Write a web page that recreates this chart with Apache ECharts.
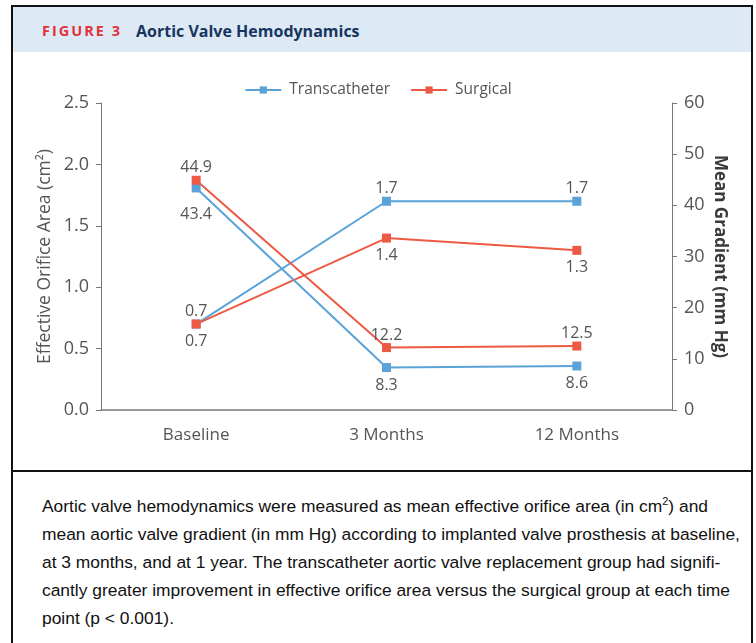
<!DOCTYPE html>
<html style="height: 100%">
<head>
    <meta charset="UTF-8">
    <title>Aortic Valve Hemodynamics</title>
    <style>
        body { margin: 0; background: #fff; width: 756px; height: 643px; overflow: hidden; position: relative; }
        #frame { position: absolute; left: 11px; top: 5px; width: 738px; height: 660px; border: 2px solid #111; }
        #header { position: absolute; left: 13px; top: 7px; width: 738px; height: 45px; background: #dde9f5; }
        #header span { position: absolute; top: 13px; font-family: "Open Sans", sans-serif; font-weight: bold; font-size: 15px; }
        #fig { left: 29px; color: #e2323a; letter-spacing: 2px; font-size: 14.5px !important; top: 14px !important; }
        #ttl { left: 123px; color: #17365f; font-size: 16px !important; }
        #divider { position: absolute; left: 11px; top: 470px; width: 742px; height: 2px; background: #111; }
        #caption { position: absolute; left: 42px; top: 492px; width: 710px; white-space: nowrap; font-family: "Liberation Sans", sans-serif; font-size: 17.4px; line-height: 28px; color: #111; }
        #container { position: absolute; left: 0; top: 0; width: 756px; height: 470px; }
    </style>
</head>
<body>
    <div id="frame"></div>
    <div id="header"><span id="fig">FIGURE 3</span><span id="ttl">Aortic Valve Hemodynamics</span></div>
    <div id="divider"></div>
    <div id="caption">Aortic valve hemodynamics were measured as mean effective orifice area (in cm<sup style="font-size:11px;line-height:0">2</sup>) and<br>mean aortic valve gradient (in mm Hg) according to implanted valve prosthesis at baseline,<br>at 3 months, and at 1 year. The transcatheter aortic valve replacement group had signifi-<br>cantly greater improvement in effective orifice area versus the surgical group at each time<br>point (p &lt; 0.001).</div>
    <div id="container"></div>

    <script src="https://cdn.jsdelivr.net/npm/echarts@6/dist/echarts.min.js"></script>
    <script type="text/javascript">
        var categories = ['Baseline', '3 Months', '12 Months'];
        // effective orifice area, cm2
        var eoaTavr = [0.7, 1.7, 1.7];
        var eoaSavr = [0.7, 1.4, 1.3];
        // mean gradient, mm Hg
        var gradTavr = [43.4, 8.3, 8.6];
        var gradSavr = [44.9, 12.2, 12.5];

        var blue = '#5aa3d9';
        var red = '#ec5a44';
        var fontName = '"Open Sans", sans-serif';

        var dom = document.getElementById('container');
        var myChart = echarts.init(dom);

        function lineSeries(name, color, data, axis, pos, dist) {
            return {
                name: name,
                type: 'line',
                yAxisIndex: axis,
                data: data,
                symbol: 'rect',
                symbolSize: 9,
                itemStyle: {color: color},
                lineStyle: {color: color, width: 2},
                label: {
                    show: true,
                    position: pos,
                    distance: dist,
                    color: '#555',
                    fontSize: 16,
                    fontFamily: fontName,
                    formatter: function (p) {
                        return p.value.toFixed(1);
                    }
                },
                animation: false
            };
        }

        var gradTavrSeries = lineSeries('Transcatheter', blue, gradTavr, 1, 'bottom', 5);
        // the baseline label sits a bit lower in the figure
        gradTavrSeries.data = gradTavr.map(function (v, i) {
            return i === 0 ? {value: v, label: {distance: 14}} : v;
        });

        var option = {
            textStyle: {fontFamily: fontName},
            legend: {
                top: 77,
                left: 'center',
                itemWidth: 36,
                itemHeight: 9,
                itemGap: 20,
                textStyle: {color: '#555', fontSize: 15.5, fontFamily: fontName, padding: [0, 0, 0, 3]},
                data: ['Transcatheter', 'Surgical']
            },
            grid: {left: 101, right: 84, top: 103, bottom: 60},
            xAxis: {
                type: 'category',
                data: categories,
                boundaryGap: true,
                axisLine: {lineStyle: {color: '#777', width: 1.5}},
                axisTick: {show: false},
                axisLabel: {color: '#555', fontSize: 17, margin: 17, fontFamily: fontName}
            },
            yAxis: [
                {
                    type: 'value',
                    min: 0, max: 2.5, interval: 0.5,
                    name: 'Effective Orifice Area (cm\u00b2)',
                    nameLocation: 'middle',
                    nameGap: 47,
                    nameMoveOverlap: false,
                    nameTextStyle: {color: '#555', fontSize: 17.5, fontFamily: fontName},
                    axisLine: {show: true, lineStyle: {color: '#777'}},
                    axisTick: {show: true, length: 5, lineStyle: {color: '#777'}},
                    splitLine: {show: false},
                    axisLabel: {color: '#555', fontSize: 18, margin: 12, formatter: function (v) { return v.toFixed(1); }}
                },
                {
                    type: 'value',
                    min: 0, max: 60, interval: 10,
                    name: 'Mean Gradient (mm Hg)',
                    nameLocation: 'middle',
                    nameGap: 39,
                    nameRotate: -90,
                    nameMoveOverlap: false,
                    nameTextStyle: {color: '#3a3a3a', fontSize: 17, fontWeight: 'bold', fontFamily: fontName},
                    axisLine: {show: true, lineStyle: {color: '#777'}},
                    axisTick: {show: true, length: 5, lineStyle: {color: '#777'}},
                    splitLine: {show: false},
                    axisLabel: {color: '#555', fontSize: 18, margin: 12}
                }
            ],
            series: [
                lineSeries('Transcatheter', blue, eoaTavr, 0, 'top', 0),
                lineSeries('Surgical', red, eoaSavr, 0, 'bottom', 5),
                gradTavrSeries,
                lineSeries('Surgical', red, gradSavr, 1, 'top', 0)
            ]
        };

        myChart.setOption(option);
    </script>
</body>
</html>
